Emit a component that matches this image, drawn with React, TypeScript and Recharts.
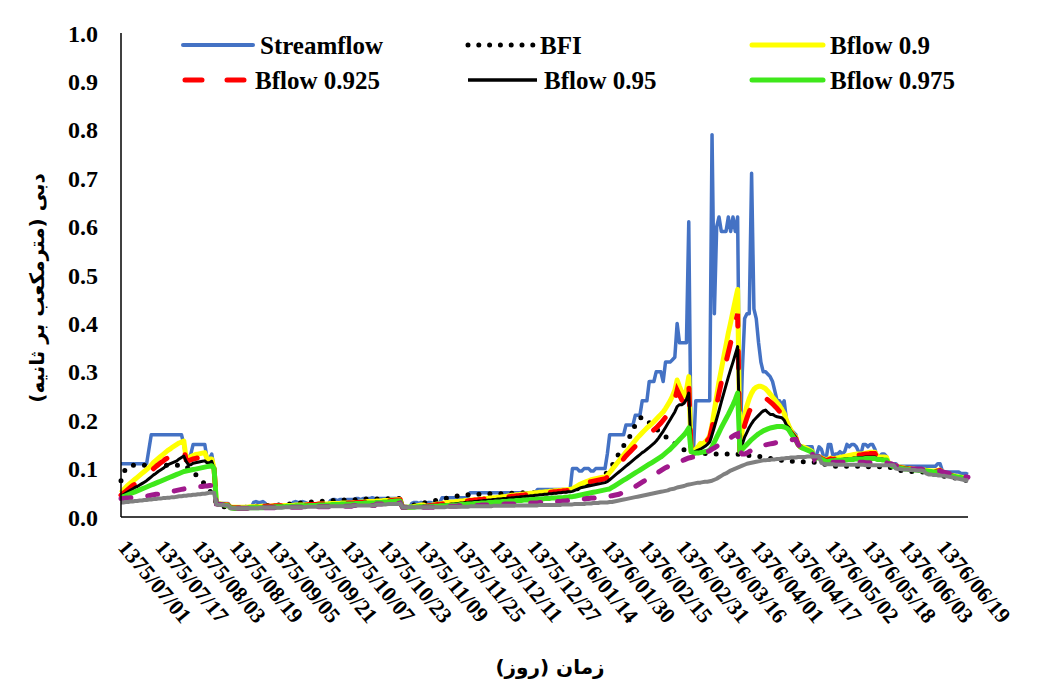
import React from "react";
import { LineChart, Line, XAxis, YAxis } from "recharts";

// Persian water year 1375/07/01 .. 1376/06/31, one point per day
const months: [string, string, number][] = [
  ["1375", "07", 30], ["1375", "08", 30], ["1375", "09", 30], ["1375", "10", 30],
  ["1375", "11", 30], ["1375", "12", 29], ["1376", "01", 31], ["1376", "02", 31],
  ["1376", "03", 31], ["1376", "04", 31], ["1376", "05", 31], ["1376", "06", 31],
];
const dates = months.flatMap(([y, m, n]) =>
  Array.from({ length: n }, (_, d) => `${y}/${m}/${String(d + 1).padStart(2, "0")}`)
);

const yTicks = [0, 0.1, 0.2, 0.3, 0.4, 0.5, 0.6, 0.7, 0.8, 0.9, 1.0];

const streamflow = [
  0.11,0.11,0.11,0.11,0.11,0.11,0.11,0.11,0.11,0.11,
  0.11,0.11,0.14,0.17,0.17,0.17,0.17,0.17,0.17,0.17,
  0.17,0.17,0.17,0.17,0.17,0.17,0.17,0.15,0.12,0.12,
  0.13,0.15,0.15,0.15,0.15,0.15,0.15,0.12,0.12,0.13,
  0.1,0.028,0.028,0.028,0.028,0.028,0.028,0.02,0.02,0.02,
  0.02,0.02,0.02,0.02,0.02,0.02,0.02,0.03,0.032,0.03,
  0.03,0.032,0.028,0.022,0.022,0.022,0.022,0.022,0.022,0.022,
  0.022,0.022,0.022,0.022,0.03,0.032,0.03,0.03,0.032,0.03,
  0.028,0.026,0.026,0.026,0.026,0.026,0.026,0.026,0.026,0.026,
  0.034,0.036,0.036,0.034,0.036,0.036,0.034,0.036,0.036,0.036,
  0.036,0.038,0.038,0.036,0.038,0.038,0.038,0.038,0.04,0.038,
  0.038,0.038,0.038,0.038,0.038,0.038,0.038,0.038,0.038,0.038,
  0.038,0.02,0.02,0.02,0.02,0.028,0.03,0.03,0.028,0.03,
  0.028,0.022,0.03,0.03,0.028,0.03,0.03,0.03,0.04,0.04,
  0.04,0.04,0.04,0.04,0.04,0.04,0.04,0.04,0.04,0.04,
  0.05,0.05,0.05,0.05,0.05,0.05,0.05,0.05,0.05,0.05,
  0.05,0.05,0.05,0.05,0.05,0.05,0.05,0.05,0.05,0.05,
  0.05,0.05,0.05,0.05,0.05,0.05,0.05,0.05,0.05,0.057,
  0.057,0.057,0.057,0.057,0.057,0.057,0.057,0.057,0.057,0.057,
  0.057,0.057,0.057,0.057,0.1,0.1,0.1,0.095,0.095,0.1,
  0.1,0.1,0.095,0.095,0.1,0.1,0.1,0.1,0.1,0.13,
  0.17,0.17,0.17,0.17,0.17,0.17,0.17,0.19,0.19,0.19,
  0.19,0.21,0.21,0.21,0.24,0.24,0.24,0.28,0.28,0.28,
  0.3,0.3,0.3,0.28,0.32,0.32,0.32,0.325,0.33,0.4,
  0.36,0.36,0.36,0.36,0.61,0.135,0.135,0.24,0.24,0.24,
  0.24,0.24,0.24,0.24,0.79,0.42,0.6,0.62,0.59,0.59,
  0.59,0.62,0.59,0.62,0.59,0.62,0.135,0.3,0.41,0.42,
  0.42,0.71,0.43,0.41,0.36,0.32,0.3,0.3,0.295,0.29,
  0.28,0.26,0.24,0.24,0.23,0.24,0.2,0.19,0.18,0.175,
  0.17,0.15,0.145,0.145,0.145,0.145,0.145,0.145,0.12,0.13,
  0.145,0.14,0.125,0.12,0.15,0.15,0.125,0.13,0.13,0.135,
  0.13,0.135,0.15,0.145,0.15,0.15,0.145,0.135,0.13,0.15,
  0.15,0.145,0.15,0.15,0.14,0.125,0.125,0.13,0.13,0.125,
  0.11,0.11,0.11,0.11,0.105,0.105,0.105,0.105,0.105,0.105,
  0.105,0.105,0.105,0.105,0.105,0.105,0.105,0.105,0.105,0.105,
  0.105,0.11,0.11,0.095,0.093,0.093,0.093,0.093,0.093,0.093,
  0.093,0.09,0.09,0.09,0.088,
];

const bfi = [
  0.075,0.09,0.1,0.105,0.107,0.107,0.107,0.107,0.107,0.107,
  0.107,0.107,0.107,0.107,0.107,0.107,0.107,0.107,0.107,0.107,
  0.107,0.107,0.107,0.107,0.107,0.107,0.107,0.107,0.105,0.1,
  0.097,0.093,0.088,0.083,0.078,0.073,0.068,0.062,0.056,0.048,
  0.04,0.028,0.026,0.024,0.022,0.02,0.019,0.018,0.018,0.018,
  0.019,0.019,0.02,0.02,0.02,0.021,0.021,0.022,0.022,0.022,
  0.023,0.023,0.023,0.024,0.024,0.024,0.024,0.025,0.025,0.025,
  0.026,0.026,0.027,0.027,0.028,0.028,0.029,0.029,0.03,0.03,
  0.03,0.031,0.031,0.031,0.032,0.032,0.032,0.033,0.033,0.033,
  0.034,0.034,0.034,0.034,0.034,0.035,0.035,0.035,0.035,0.035,
  0.035,0.036,0.036,0.036,0.036,0.037,0.037,0.037,0.037,0.037,
  0.037,0.037,0.037,0.037,0.037,0.038,0.038,0.038,0.038,0.038,
  0.038,0.02,0.021,0.022,0.023,0.024,0.025,0.026,0.027,0.028,
  0.029,0.03,0.031,0.032,0.033,0.034,0.035,0.036,0.037,0.038,
  0.039,0.04,0.041,0.042,0.043,0.044,0.045,0.045,0.046,0.046,
  0.047,0.047,0.047,0.047,0.047,0.048,0.048,0.048,0.048,0.048,
  0.048,0.048,0.048,0.048,0.048,0.049,0.049,0.049,0.049,0.049,
  0.05,0.05,0.05,0.05,0.05,0.05,0.05,0.05,0.05,0.05,
  0.051,0.051,0.051,0.051,0.051,0.052,0.052,0.052,0.052,0.052,
  0.053,0.053,0.054,0.055,0.056,0.057,0.058,0.06,0.062,0.064,
  0.066,0.068,0.07,0.072,0.075,0.078,0.081,0.084,0.088,0.092,
  0.097,0.105,0.115,0.123,0.131,0.14,0.147,0.153,0.16,0.17,
  0.18,0.19,0.198,0.204,0.207,0.205,0.2,0.195,0.19,0.186,
  0.182,0.178,0.174,0.17,0.166,0.163,0.16,0.156,0.152,0.148,
  0.145,0.142,0.139,0.136,0.134,0.133,0.132,0.132,0.132,0.131,
  0.131,0.131,0.131,0.131,0.131,0.13,0.13,0.13,0.13,0.13,
  0.13,0.13,0.13,0.13,0.13,0.13,0.128,0.128,0.128,0.128,
  0.127,0.127,0.126,0.126,0.125,0.125,0.124,0.123,0.122,0.121,
  0.12,0.119,0.118,0.118,0.117,0.117,0.116,0.116,0.115,0.115,
  0.114,0.114,0.114,0.114,0.114,0.113,0.113,0.113,0.113,0.113,
  0.112,0.112,0.11,0.108,0.106,0.105,0.105,0.105,0.105,0.105,
  0.105,0.105,0.105,0.105,0.105,0.105,0.105,0.105,0.105,0.105,
  0.104,0.104,0.104,0.104,0.104,0.104,0.104,0.104,0.104,0.104,
  0.103,0.102,0.1,0.098,0.097,0.096,0.096,0.095,0.095,0.095,
  0.094,0.094,0.094,0.094,0.094,0.092,0.091,0.09,0.09,0.089,
  0.088,0.087,0.086,0.085,0.084,0.083,0.083,0.082,0.081,0.08,
  0.079,0.078,0.077,0.076,0.076,
];

const bflow900 = [
  0.05,0.056,0.061,0.066,0.07,0.074,0.078,0.082,0.086,0.09,
  0.094,0.098,0.102,0.107,0.113,0.117,0.121,0.125,0.129,0.133,
  0.137,0.14,0.144,0.147,0.15,0.153,0.155,0.157,0.12,0.12,
  0.125,0.127,0.129,0.13,0.131,0.132,0.133,0.12,0.12,0.12,
  0.1,0.028,0.027,0.027,0.026,0.026,0.025,0.02,0.02,0.02,
  0.02,0.02,0.02,0.02,0.02,0.021,0.021,0.021,0.021,0.021,
  0.022,0.022,0.022,0.022,0.022,0.023,0.023,0.023,0.023,0.023,
  0.024,0.024,0.024,0.024,0.024,0.025,0.025,0.025,0.025,0.025,
  0.026,0.026,0.026,0.026,0.026,0.027,0.027,0.027,0.027,0.027,
  0.028,0.028,0.028,0.028,0.028,0.029,0.029,0.029,0.029,0.029,
  0.03,0.03,0.03,0.031,0.031,0.031,0.032,0.032,0.032,0.032,
  0.033,0.033,0.033,0.034,0.034,0.034,0.035,0.035,0.036,0.036,
  0.036,0.02,0.02,0.02,0.02,0.021,0.022,0.023,0.024,0.025,
  0.025,0.022,0.023,0.024,0.025,0.026,0.027,0.027,0.028,0.029,
  0.03,0.03,0.031,0.031,0.032,0.032,0.033,0.033,0.034,0.034,
  0.035,0.035,0.036,0.036,0.037,0.037,0.038,0.038,0.039,0.039,
  0.04,0.04,0.041,0.041,0.042,0.042,0.043,0.044,0.045,0.045,
  0.046,0.046,0.047,0.047,0.048,0.048,0.049,0.049,0.05,0.05,
  0.051,0.051,0.052,0.052,0.053,0.053,0.054,0.054,0.055,0.055,
  0.056,0.056,0.057,0.057,0.058,0.061,0.064,0.067,0.069,0.071,
  0.073,0.075,0.077,0.078,0.079,0.08,0.081,0.082,0.083,0.086,
  0.092,0.098,0.104,0.11,0.116,0.122,0.128,0.134,0.14,0.146,
  0.152,0.158,0.164,0.169,0.174,0.179,0.184,0.188,0.192,0.197,
  0.202,0.207,0.212,0.217,0.224,0.232,0.24,0.25,0.262,0.283,
  0.27,0.258,0.25,0.262,0.29,0.135,0.135,0.14,0.145,0.152,
  0.15,0.155,0.16,0.168,0.19,0.22,0.25,0.28,0.305,0.33,
  0.355,0.38,0.402,0.425,0.448,0.47,0.135,0.18,0.21,0.23,
  0.245,0.256,0.264,0.268,0.27,0.27,0.268,0.265,0.26,0.254,
  0.248,0.242,0.236,0.23,0.222,0.214,0.2,0.188,0.178,0.17,
  0.165,0.15,0.145,0.145,0.143,0.141,0.138,0.135,0.12,0.125,
  0.125,0.122,0.12,0.117,0.12,0.122,0.12,0.121,0.122,0.123,
  0.124,0.125,0.126,0.127,0.128,0.129,0.13,0.13,0.13,0.131,
  0.132,0.133,0.134,0.134,0.134,0.125,0.124,0.124,0.124,0.123,
  0.11,0.108,0.107,0.106,0.104,0.103,0.102,0.101,0.1,0.1,
  0.099,0.099,0.098,0.098,0.097,0.097,0.096,0.096,0.095,0.095,
  0.095,0.096,0.097,0.093,0.09,0.088,0.087,0.086,0.085,0.084,
  0.083,0.082,0.081,0.08,0.079,
];

const bflow925 = [
  0.045,0.049,0.053,0.057,0.061,0.065,0.068,0.071,0.075,0.078,
  0.082,0.086,0.09,0.095,0.1,0.104,0.108,0.112,0.115,0.119,
  0.122,0.125,0.128,0.131,0.134,0.136,0.138,0.14,0.118,0.116,
  0.118,0.12,0.121,0.122,0.123,0.124,0.125,0.12,0.118,0.118,
  0.1,0.028,0.027,0.026,0.026,0.025,0.025,0.02,0.019,0.019,
  0.019,0.019,0.019,0.02,0.02,0.02,0.02,0.021,0.021,0.021,
  0.021,0.021,0.022,0.022,0.022,0.022,0.023,0.023,0.023,0.023,
  0.023,0.024,0.024,0.024,0.024,0.025,0.025,0.025,0.025,0.025,
  0.025,0.026,0.026,0.026,0.026,0.027,0.027,0.027,0.027,0.027,
  0.027,0.028,0.028,0.028,0.028,0.029,0.029,0.029,0.029,0.029,
  0.029,0.03,0.03,0.03,0.03,0.031,0.031,0.031,0.031,0.031,
  0.032,0.032,0.032,0.033,0.033,0.033,0.034,0.034,0.035,0.035,
  0.035,0.02,0.02,0.02,0.02,0.021,0.022,0.022,0.023,0.024,
  0.024,0.022,0.023,0.024,0.024,0.025,0.026,0.026,0.027,0.028,
  0.029,0.029,0.03,0.03,0.031,0.031,0.032,0.032,0.033,0.033,
  0.034,0.034,0.035,0.035,0.036,0.036,0.037,0.037,0.038,0.038,
  0.039,0.039,0.04,0.04,0.041,0.041,0.042,0.042,0.043,0.043,
  0.044,0.044,0.045,0.045,0.046,0.046,0.047,0.047,0.048,0.048,
  0.049,0.049,0.05,0.05,0.051,0.051,0.052,0.052,0.053,0.053,
  0.054,0.054,0.055,0.055,0.056,0.059,0.062,0.064,0.066,0.068,
  0.07,0.072,0.073,0.074,0.075,0.076,0.077,0.078,0.079,0.082,
  0.087,0.092,0.098,0.104,0.11,0.115,0.12,0.126,0.131,0.136,
  0.141,0.146,0.151,0.156,0.161,0.165,0.169,0.172,0.176,0.18,
  0.184,0.189,0.194,0.2,0.206,0.213,0.22,0.23,0.242,0.262,
  0.252,0.242,0.238,0.248,0.275,0.135,0.135,0.138,0.142,0.146,
  0.15,0.154,0.158,0.164,0.185,0.208,0.232,0.256,0.278,0.3,
  0.32,0.34,0.36,0.38,0.4,0.42,0.135,0.165,0.19,0.205,
  0.218,0.228,0.236,0.242,0.246,0.248,0.248,0.246,0.242,0.238,
  0.234,0.229,0.224,0.218,0.212,0.205,0.195,0.185,0.175,0.168,
  0.162,0.15,0.145,0.143,0.141,0.139,0.137,0.134,0.12,0.124,
  0.124,0.121,0.119,0.116,0.118,0.12,0.119,0.12,0.121,0.122,
  0.123,0.124,0.125,0.126,0.127,0.127,0.128,0.128,0.128,0.129,
  0.13,0.13,0.131,0.131,0.131,0.124,0.123,0.123,0.122,0.122,
  0.11,0.107,0.106,0.105,0.103,0.102,0.101,0.1,0.1,0.099,
  0.099,0.098,0.098,0.097,0.097,0.096,0.096,0.095,0.095,0.094,
  0.094,0.095,0.096,0.092,0.089,0.088,0.087,0.086,0.085,0.084,
  0.083,0.082,0.081,0.08,0.079,
];

const bflow950 = [
  0.042,0.046,0.049,0.052,0.055,0.058,0.061,0.063,0.066,0.069,
  0.072,0.075,0.079,0.083,0.087,0.09,0.094,0.097,0.1,0.104,
  0.107,0.11,0.112,0.114,0.116,0.12,0.123,0.126,0.115,0.108,
  0.108,0.111,0.112,0.113,0.114,0.115,0.116,0.112,0.112,0.115,
  0.1,0.028,0.027,0.026,0.025,0.025,0.024,0.02,0.019,0.019,
  0.019,0.019,0.019,0.019,0.019,0.02,0.02,0.02,0.02,0.02,
  0.02,0.02,0.021,0.021,0.021,0.021,0.022,0.022,0.022,0.022,
  0.022,0.023,0.023,0.023,0.023,0.024,0.024,0.024,0.024,0.024,
  0.024,0.025,0.025,0.025,0.025,0.026,0.026,0.026,0.026,0.026,
  0.026,0.027,0.027,0.027,0.027,0.028,0.028,0.028,0.028,0.028,
  0.028,0.029,0.029,0.029,0.029,0.03,0.03,0.03,0.03,0.03,
  0.031,0.031,0.031,0.032,0.032,0.032,0.033,0.033,0.034,0.034,
  0.034,0.02,0.02,0.02,0.02,0.02,0.021,0.021,0.022,0.022,
  0.023,0.021,0.022,0.022,0.023,0.023,0.024,0.024,0.025,0.025,
  0.026,0.026,0.027,0.027,0.028,0.028,0.029,0.029,0.03,0.03,
  0.031,0.031,0.032,0.032,0.033,0.033,0.034,0.034,0.035,0.035,
  0.036,0.036,0.037,0.037,0.038,0.038,0.039,0.039,0.04,0.04,
  0.041,0.041,0.042,0.042,0.043,0.043,0.044,0.044,0.045,0.045,
  0.046,0.046,0.047,0.047,0.048,0.048,0.049,0.049,0.05,0.05,
  0.051,0.051,0.052,0.052,0.053,0.055,0.057,0.059,0.061,0.062,
  0.063,0.064,0.065,0.066,0.067,0.068,0.069,0.07,0.071,0.073,
  0.077,0.081,0.085,0.089,0.093,0.097,0.101,0.105,0.109,0.113,
  0.117,0.121,0.125,0.129,0.133,0.136,0.14,0.144,0.148,0.152,
  0.157,0.163,0.17,0.177,0.185,0.193,0.201,0.209,0.217,0.228,
  0.232,0.232,0.235,0.243,0.256,0.135,0.135,0.136,0.138,0.14,
  0.143,0.146,0.15,0.155,0.17,0.186,0.203,0.22,0.238,0.255,
  0.272,0.289,0.305,0.32,0.336,0.352,0.135,0.15,0.165,0.175,
  0.185,0.193,0.2,0.205,0.21,0.215,0.219,0.221,0.216,0.212,
  0.212,0.209,0.207,0.206,0.205,0.2,0.19,0.185,0.176,0.17,
  0.164,0.15,0.145,0.142,0.14,0.138,0.136,0.133,0.12,0.123,
  0.123,0.12,0.118,0.115,0.116,0.117,0.117,0.118,0.118,0.119,
  0.119,0.12,0.12,0.121,0.121,0.122,0.122,0.123,0.123,0.123,
  0.124,0.124,0.124,0.124,0.124,0.12,0.12,0.12,0.119,0.119,
  0.11,0.106,0.105,0.104,0.102,0.101,0.1,0.1,0.099,0.099,
  0.098,0.098,0.097,0.097,0.096,0.096,0.095,0.095,0.094,0.094,
  0.094,0.094,0.095,0.091,0.089,0.088,0.087,0.086,0.085,0.084,
  0.083,0.082,0.081,0.08,0.079,
];

const bflow975 = [
  0.04,0.042,0.044,0.046,0.048,0.05,0.052,0.054,0.056,0.058,
  0.06,0.062,0.064,0.066,0.068,0.07,0.072,0.074,0.076,0.078,
  0.08,0.082,0.084,0.086,0.088,0.09,0.092,0.094,0.095,0.096,
  0.097,0.098,0.099,0.1,0.101,0.102,0.103,0.104,0.105,0.106,
  0.1,0.028,0.027,0.026,0.025,0.024,0.024,0.019,0.018,0.018,
  0.018,0.018,0.018,0.018,0.018,0.019,0.019,0.019,0.019,0.019,
  0.019,0.019,0.02,0.02,0.02,0.02,0.021,0.021,0.021,0.021,
  0.021,0.022,0.022,0.022,0.022,0.023,0.023,0.023,0.023,0.023,
  0.023,0.024,0.024,0.024,0.024,0.025,0.025,0.025,0.025,0.025,
  0.025,0.026,0.026,0.026,0.026,0.027,0.027,0.027,0.027,0.027,
  0.027,0.028,0.028,0.028,0.028,0.029,0.029,0.029,0.029,0.029,
  0.03,0.03,0.03,0.031,0.031,0.031,0.032,0.032,0.033,0.033,
  0.033,0.02,0.02,0.02,0.02,0.02,0.02,0.021,0.021,0.021,
  0.021,0.021,0.021,0.022,0.022,0.022,0.022,0.023,0.023,0.023,
  0.024,0.024,0.024,0.025,0.025,0.025,0.026,0.026,0.026,0.027,
  0.027,0.027,0.028,0.028,0.028,0.029,0.029,0.029,0.03,0.03,
  0.03,0.031,0.031,0.031,0.032,0.032,0.032,0.033,0.033,0.033,
  0.034,0.034,0.034,0.035,0.035,0.035,0.036,0.036,0.036,0.037,
  0.037,0.037,0.038,0.038,0.038,0.039,0.039,0.039,0.04,0.04,
  0.04,0.041,0.041,0.042,0.042,0.043,0.044,0.045,0.046,0.047,
  0.048,0.049,0.05,0.051,0.052,0.053,0.054,0.055,0.056,0.057,
  0.058,0.061,0.064,0.067,0.07,0.073,0.076,0.079,0.082,0.085,
  0.088,0.091,0.094,0.097,0.1,0.103,0.106,0.109,0.112,0.115,
  0.118,0.121,0.124,0.128,0.132,0.136,0.14,0.145,0.15,0.155,
  0.16,0.165,0.17,0.176,0.184,0.135,0.133,0.132,0.132,0.133,
  0.134,0.135,0.136,0.138,0.145,0.155,0.165,0.175,0.185,0.194,
  0.203,0.212,0.222,0.232,0.243,0.256,0.135,0.14,0.145,0.15,
  0.155,0.16,0.164,0.168,0.172,0.175,0.178,0.18,0.182,0.184,
  0.185,0.186,0.187,0.187,0.187,0.186,0.184,0.18,0.172,0.165,
  0.158,0.15,0.145,0.142,0.14,0.138,0.136,0.133,0.12,0.122,
  0.122,0.119,0.117,0.114,0.115,0.116,0.116,0.117,0.117,0.117,
  0.118,0.118,0.118,0.119,0.119,0.119,0.12,0.12,0.12,0.12,
  0.121,0.121,0.121,0.121,0.121,0.119,0.119,0.118,0.118,0.118,
  0.11,0.106,0.104,0.103,0.102,0.101,0.1,0.099,0.099,0.098,
  0.098,0.097,0.097,0.096,0.096,0.095,0.095,0.094,0.094,0.093,
  0.093,0.093,0.094,0.09,0.088,0.087,0.086,0.085,0.084,0.083,
  0.082,0.081,0.08,0.079,0.078,
];

// two more filter curves drawn in the chart but absent from its legend
const purpleSeries = [
  0.038,0.038,0.039,0.039,0.04,0.04,0.041,0.041,0.042,0.042,
  0.043,0.043,0.044,0.045,0.046,0.047,0.047,0.048,0.049,0.05,
  0.051,0.052,0.053,0.054,0.055,0.056,0.057,0.058,0.059,0.06,
  0.06,0.061,0.062,0.062,0.063,0.063,0.064,0.064,0.065,0.065,
  0.063,0.027,0.026,0.026,0.025,0.025,0.024,0.018,0.018,0.018,
  0.018,0.018,0.018,0.018,0.018,0.018,0.018,0.018,0.018,0.018,
  0.019,0.019,0.019,0.019,0.019,0.019,0.019,0.019,0.019,0.019,
  0.02,0.02,0.02,0.02,0.02,0.02,0.02,0.02,0.02,0.02,
  0.021,0.021,0.021,0.021,0.021,0.021,0.021,0.021,0.021,0.021,
  0.022,0.022,0.022,0.022,0.022,0.022,0.022,0.022,0.022,0.022,
  0.024,0.024,0.024,0.024,0.024,0.024,0.024,0.024,0.024,0.024,
  0.027,0.027,0.027,0.027,0.027,0.028,0.028,0.028,0.028,0.028,
  0.029,0.02,0.02,0.02,0.02,0.02,0.02,0.02,0.02,0.02,
  0.02,0.02,0.02,0.02,0.02,0.021,0.021,0.021,0.021,0.021,
  0.022,0.022,0.022,0.022,0.022,0.023,0.023,0.023,0.023,0.023,
  0.024,0.024,0.024,0.024,0.024,0.025,0.025,0.025,0.025,0.025,
  0.026,0.026,0.026,0.026,0.026,0.027,0.027,0.027,0.027,0.027,
  0.028,0.028,0.028,0.028,0.028,0.029,0.029,0.029,0.029,0.029,
  0.03,0.03,0.03,0.031,0.031,0.031,0.032,0.032,0.032,0.032,
  0.033,0.033,0.034,0.034,0.035,0.035,0.036,0.036,0.037,0.037,
  0.038,0.038,0.039,0.039,0.04,0.04,0.041,0.041,0.042,0.042,
  0.043,0.044,0.045,0.046,0.047,0.049,0.051,0.053,0.055,0.057,
  0.06,0.063,0.066,0.069,0.072,0.075,0.078,0.081,0.084,0.087,
  0.09,0.093,0.096,0.099,0.102,0.104,0.106,0.108,0.11,0.112,
  0.114,0.116,0.118,0.12,0.122,0.123,0.124,0.126,0.128,0.13,
  0.132,0.133,0.135,0.137,0.14,0.143,0.146,0.149,0.152,0.155,
  0.158,0.161,0.164,0.167,0.17,0.172,0.135,0.13,0.13,0.132,
  0.135,0.138,0.14,0.142,0.144,0.146,0.148,0.149,0.15,0.151,
  0.152,0.153,0.154,0.155,0.156,0.157,0.158,0.159,0.159,0.16,
  0.16,0.15,0.145,0.142,0.14,0.138,0.135,0.132,0.12,0.125,
  0.125,0.12,0.115,0.112,0.113,0.113,0.113,0.113,0.113,0.113,
  0.113,0.113,0.113,0.113,0.113,0.113,0.113,0.113,0.113,0.113,
  0.112,0.112,0.112,0.112,0.112,0.112,0.112,0.112,0.112,0.112,
  0.11,0.11,0.108,0.106,0.104,0.102,0.1,0.1,0.1,0.1,
  0.099,0.099,0.099,0.099,0.099,0.098,0.098,0.098,0.098,0.098,
  0.097,0.096,0.095,0.093,0.092,0.091,0.09,0.089,0.088,0.087,
  0.086,0.085,0.084,0.083,0.082,
];

const greySeries = [
  0.03,0.03,0.031,0.031,0.032,0.032,0.033,0.033,0.034,0.034,
  0.035,0.035,0.036,0.036,0.037,0.037,0.038,0.038,0.039,0.039,
  0.04,0.04,0.041,0.041,0.042,0.043,0.043,0.044,0.044,0.045,
  0.045,0.046,0.046,0.047,0.047,0.048,0.048,0.049,0.05,0.05,
  0.05,0.026,0.025,0.025,0.025,0.024,0.024,0.018,0.018,0.018,
  0.018,0.018,0.018,0.018,0.018,0.018,0.018,0.018,0.018,0.018,
  0.019,0.019,0.019,0.019,0.019,0.019,0.019,0.019,0.019,0.019,
  0.02,0.02,0.02,0.02,0.02,0.02,0.02,0.02,0.02,0.02,
  0.021,0.021,0.021,0.021,0.021,0.021,0.021,0.021,0.021,0.021,
  0.022,0.022,0.022,0.022,0.022,0.022,0.022,0.022,0.022,0.022,
  0.024,0.024,0.024,0.024,0.024,0.024,0.024,0.024,0.024,0.024,
  0.026,0.026,0.026,0.026,0.026,0.027,0.027,0.027,0.027,0.027,
  0.028,0.02,0.02,0.02,0.02,0.02,0.02,0.02,0.02,0.02,
  0.02,0.02,0.02,0.02,0.02,0.02,0.02,0.02,0.02,0.02,
  0.021,0.021,0.021,0.021,0.021,0.021,0.021,0.021,0.021,0.021,
  0.022,0.022,0.022,0.022,0.022,0.022,0.022,0.022,0.022,0.022,
  0.023,0.023,0.023,0.023,0.023,0.023,0.023,0.023,0.023,0.023,
  0.024,0.024,0.024,0.024,0.024,0.024,0.024,0.024,0.024,0.024,
  0.025,0.025,0.025,0.025,0.025,0.025,0.025,0.025,0.025,0.025,
  0.026,0.026,0.026,0.026,0.026,0.027,0.027,0.027,0.027,0.027,
  0.028,0.028,0.028,0.029,0.029,0.029,0.03,0.03,0.03,0.03,
  0.031,0.031,0.032,0.033,0.034,0.035,0.036,0.037,0.038,0.039,
  0.04,0.041,0.042,0.043,0.044,0.045,0.046,0.047,0.048,0.049,
  0.05,0.051,0.052,0.053,0.054,0.055,0.057,0.058,0.059,0.061,
  0.062,0.063,0.064,0.066,0.067,0.068,0.069,0.07,0.071,0.071,
  0.072,0.073,0.073,0.074,0.075,0.077,0.079,0.082,0.085,0.088,
  0.09,0.093,0.096,0.098,0.1,0.102,0.104,0.106,0.108,0.11,
  0.111,0.112,0.113,0.114,0.115,0.116,0.117,0.117,0.118,0.118,
  0.119,0.119,0.12,0.12,0.121,0.121,0.122,0.122,0.123,0.123,
  0.123,0.124,0.124,0.124,0.124,0.125,0.125,0.125,0.125,0.125,
  0.125,0.112,0.11,0.109,0.109,0.109,0.109,0.108,0.108,0.108,
  0.108,0.108,0.108,0.108,0.108,0.108,0.108,0.108,0.108,0.108,
  0.107,0.107,0.107,0.107,0.107,0.107,0.107,0.107,0.107,0.107,
  0.107,0.107,0.107,0.1,0.099,0.099,0.098,0.098,0.098,0.097,
  0.097,0.097,0.096,0.096,0.096,0.095,0.09,0.088,0.088,0.087,
  0.087,0.086,0.086,0.085,0.085,0.084,0.083,0.082,0.081,0.08,
  0.079,0.078,0.077,0.076,0.076,
];

const data = dates.map((date, i) => ({
  date,
  streamflow: streamflow[i],
  bfi: bfi[i],
  b900: bflow900[i],
  b925: bflow925[i],
  b950: bflow950[i],
  b975: bflow975[i],
  extraA: purpleSeries[i],
  extraB: greySeries[i],
}));

const serif = "'Liberation Serif', 'Times New Roman', serif";
const persian = "'DejaVu Sans', sans-serif";

const DateTick = (props: any) => {
  const { x, y, payload } = props;
  const ax = x - 4;
  const ay = y + 31;
  return (
    <text
      x={ax}
      y={ay}
      transform={`rotate(50 ${ax} ${ay})`}
      textAnchor="start"
      fontFamily={serif}
      fontWeight="bold"
      fontSize={22}
      fill="#000"
    >
      {payload.value}
    </text>
  );
};

// legend sample styles
const legendRows = [
  { label: "Streamflow", x: 183, y: 45, w: 70, color: "#4472C4", width: 4, dash: undefined, cap: "round" },
  { label: "BFI", x: 468, y: 45, w: 65, color: "#000", width: 5, dash: "0 10.8", cap: "round" },
  { label: "Bflow 0.9", x: 752, y: 45, w: 71, color: "#FFFF00", width: 5, dash: undefined, cap: "round" },
  { label: "Bflow 0.925", x: 185, y: 80, w: 63, color: "#FF0000", width: 5, dash: "17 25", cap: "round" },
  { label: "Bflow 0.95", x: 468, y: 80, w: 69, color: "#000", width: 3.5, dash: undefined, cap: "butt" },
  { label: "Bflow 0.975", x: 752, y: 80, w: 71, color: "#3FE81B", width: 5, dash: undefined, cap: "round" },
];

export default function App() {
  return (
    <div style={{ position: "absolute", left: 0, top: 0, width: 1038, height: 693, background: "#fff" }}>
      <LineChart
        width={1038}
        height={693}
        data={data}
        margin={{ top: 33, right: 70, bottom: 36, left: 21 }}
      >
        <XAxis
          dataKey="date"
          interval={15}
          height={140}
          tickLine={false}
          tickSize={0}
          tickMargin={0}
          axisLine={{ stroke: "#000", strokeWidth: 1.5 }}
          tick={<DateTick />}
          label={{
            content: () => (
              <text x={550} y={674} textAnchor="middle" fontFamily={persian} fontWeight="bold" fontSize={20} fill="#000">
                زمان (روز)
              </text>
            ),
          }}
        />
        <YAxis
          domain={[0, 1]}
          ticks={yTicks}
          width={100}
          tickLine={false}
          tickSize={0}
          tickMargin={23}
          tickFormatter={(v: number) => v.toFixed(1)}
          axisLine={{ stroke: "#000", strokeWidth: 1.5 }}
          tick={{ fill: "#000", fontFamily: serif, fontWeight: "bold", fontSize: 24 }}
          label={{
            content: () => (
              <text
                x={0}
                y={0}
                transform="translate(44 288) rotate(-90)"
                textAnchor="middle"
                fontFamily={persian}
                fontWeight="bold"
                fontSize={20}
                fill="#000"
              >
                دبی (مترمکعب بر ثانیه)
              </text>
            ),
          }}
        />
        <Line dataKey="streamflow" name="Streamflow" stroke="#4472C4" strokeWidth={3.5} dot={false} activeDot={false} isAnimationActive={false} strokeLinejoin="round" />
        <Line dataKey="bfi" name="BFI" stroke="#000" strokeWidth={5} strokeDasharray="0 11" strokeLinecap="round" dot={false} activeDot={false} isAnimationActive={false} />
        <Line dataKey="b900" name="Bflow 0.9" stroke="#FFFF00" strokeWidth={5} dot={false} activeDot={false} isAnimationActive={false} strokeLinejoin="round" />
        <Line dataKey="b925" name="Bflow 0.925" stroke="#FF0000" strokeWidth={5} strokeDasharray="17 25" strokeLinecap="round" dot={false} activeDot={false} isAnimationActive={false} />
        <Line dataKey="b950" name="Bflow 0.95" stroke="#000" strokeWidth={3} dot={false} activeDot={false} isAnimationActive={false} strokeLinejoin="round" />
        <Line dataKey="b975" name="Bflow 0.975" stroke="#3FE81B" strokeWidth={5} dot={false} activeDot={false} isAnimationActive={false} strokeLinejoin="round" />
        <Line dataKey="extraA" legendType="none" stroke="#A0198C" strokeWidth={5} strokeDasharray="10 17" strokeLinecap="round" dot={false} activeDot={false} isAnimationActive={false} />
        <Line dataKey="extraB" legendType="none" stroke="#808080" strokeWidth={4} dot={false} activeDot={false} isAnimationActive={false} strokeLinejoin="round" />
      </LineChart>
      <svg width={1038} height={110} style={{ position: "absolute", left: 0, top: 0, pointerEvents: "none" }}>
        {legendRows.map((r) => (
          <g key={r.label}>
            <line
              x1={r.x}
              y1={r.y}
              x2={r.x + r.w}
              y2={r.y}
              stroke={r.color}
              strokeWidth={r.width}
              strokeDasharray={r.dash}
              strokeLinecap={r.cap as any}
            />
            <text x={r.x + r.w + 7} y={r.y + 9} fontFamily={serif} fontWeight="bold" fontSize={25} fill="#000">
              {r.label}
            </text>
          </g>
        ))}
      </svg>
    </div>
  );
}
